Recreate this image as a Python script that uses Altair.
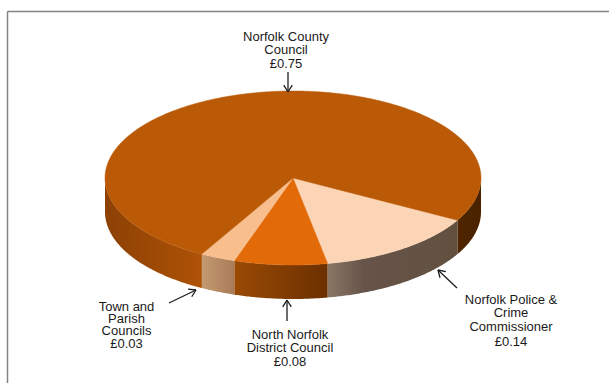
import math
import altair as alt
import numpy as np
import pandas as pd

# Slices clockwise from the edge where the police precept begins
names = ["Norfolk Police & Crime Commissioner", "North Norfolk District Council",
         "Town and Parish Councils", "Norfolk County Council"]
shares = [0.14, 0.08, 0.03, 0.75]
top_colors = ["#FBD5B5", "#E26A08", "#F8BE8D", "#BA5A07"]

WIDTH, HEIGHT = 609, 383
CX, CY, RX, RY, DEPTH = 293, 178, 188, 87, 34
START = 29.0

x_scale = alt.Scale(domain=[-CX / RX, (WIDTH - CX) / RX], nice=False, zero=False)
y_scale = alt.Scale(domain=[(CY - HEIGHT) / RY, CY / RY], nice=False, zero=False)
X = alt.X("x:Q", scale=x_scale, axis=None)
Y = alt.Y("y:Q", scale=y_scale, axis=None)

bounds = np.cumsum([0.0] + shares) * 360 + START


def rim(a, b):
    t = np.radians(np.linspace(a, b, max(int(abs(b - a)) * 2, 2) + 1))
    return np.cos(t), -np.sin(t)


def top_face(a, b, color):
    xs, ys = rim(a, b)
    xs = np.concatenate([[0.0], xs, [0.0]])
    ys = np.concatenate([[0.0], ys, [0.0]])
    df = pd.DataFrame({"x": xs, "y": ys, "i": range(len(xs))})
    return alt.Chart(df).mark_line(fill=color, stroke=color, strokeWidth=0.5).encode(
        x=X, y=Y, order="i:Q"
    )


def wall(a, b, *stops):
    xs, ys = rim(a, b)
    df = pd.DataFrame({"x": xs, "y": ys, "y2": ys - DEPTH / RY}).sort_values("x")
    fill = alt.Gradient(
        gradient="linear", x1=0, x2=1, y1=0, y2=0,
        stops=[alt.GradientStop(color=c, offset=o) for c, o in stops],
    )
    return alt.Chart(df).mark_area(color=fill).encode(x=X, y=Y, y2="y2:Q")


def segment(x1, y1, x2, y2, color="#1E1E1E", width=1.3):
    return alt.Chart(pd.DataFrame({"k": [0]})).mark_rule(
        color=color, strokeWidth=width
    ).encode(x=alt.value(x1), x2=alt.value(x2), y=alt.value(y1), y2=alt.value(y2))


def arrow(x1, y1, x2, y2, size=8, spread=32):
    heading = math.atan2(y1 - y2, x1 - x2)
    parts = [segment(x1, y1, x2, y2)]
    for sign in (-1, 1):
        h = heading + sign * math.radians(spread)
        parts.append(segment(x2, y2, x2 + size * math.cos(h), y2 + size * math.sin(h)))
    return parts


def label(cx, rows):
    return [
        alt.Chart(pd.DataFrame({"k": [0]})).mark_text(
            font="Liberation Sans", fontSize=13, color="#1A1A1A",
            align="center", baseline="middle",
        ).encode(x=alt.value(cx), y=alt.value(y), text=alt.value(line))
        for line, y in rows
    ]


layers = [
    # Frame running off the right and bottom edges
    segment(7.5, 11.5, WIDTH, 11.5, "#848484", 1.5),
    segment(7.5, 11.5, 7.5, HEIGHT, "#848484", 1.5),
    # Outer walls, front half of the disc only
    wall(0, bounds[0], ("#4E2500", 0), ("#4A2200", 1)),
    wall(bounds[0], bounds[1], ("#8A7663", 0), ("#66544A", 0.28), ("#62503F", 1)),
    wall(bounds[1], bounds[2], ("#9A4A05", 0), ("#6B3000", 1)),
    wall(bounds[2], bounds[3], ("#C49A72", 0), ("#A87C58", 1)),
    wall(bounds[3], 180, ("#8C4104", 0), ("#AE5206", 1)),
]
layers += [top_face(bounds[i], bounds[i + 1], top_colors[i]) for i in range(len(shares))]

layers += arrow(288, 72, 288, 92)
layers += arrow(169, 303, 196, 290)
layers += arrow(287, 321, 287, 300)
layers += arrow(457, 288, 438, 270)

layers += label(286, [("Norfolk County", 37), ("Council", 50), ("£0.75", 64)])
layers += label(126.5, [("Town and", 307), ("Parish", 319), ("Councils", 331), ("£0.03", 344)])
layers += label(290, [("North Norfolk", 335), ("District Council", 348), ("£0.08", 362)])
layers += label(511, [("Norfolk Police &", 299.5), ("Crime", 313), ("Commissioner", 327), ("£0.14", 342)])

chart = alt.layer(*layers).properties(
    width=WIDTH, height=HEIGHT, padding=0, autosize="none", background="white"
).configure_view(stroke=None)

chart.save("out.html", embed_options={"renderer": "svg", "actions": False})
